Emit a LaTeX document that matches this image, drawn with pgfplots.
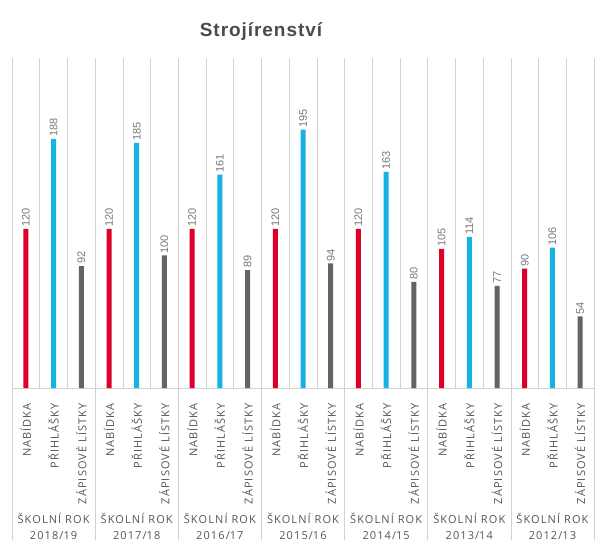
\documentclass[border=0pt]{standalone}
\usepackage{pgfplots}
\pgfplotsset{compat=1.18}
\usepackage{fontspec}
\setmainfont{Open Sans}
\newfontfamily\titlefont[LetterSpace=5]{Liberation Sans}
\newfontfamily\valfont{Liberation Sans}
\newfontfamily\catfont[LetterSpace=10]{Open Sans}
\definecolor{cred}{RGB}{222,0,42}
\definecolor{cblue}{RGB}{22,178,228}
\definecolor{cgrey}{RGB}{100,100,100}
\definecolor{gridc}{RGB}{210,210,210}
\definecolor{txtc}{RGB}{85,85,85}
\definecolor{valc}{RGB}{120,120,120}
\definecolor{titlec}{RGB}{75,75,75}
\begin{document}
\begin{tikzpicture}
\useasboundingbox (-12bp,-165bp) rectangle (593bp,388bp);
\begin{axis}[
  at={(0,0)}, anchor=south west, scale only axis,
  width=582bp, height=330bp,
  xmin=-0.5, xmax=20.5, ymin=0, ymax=249,
  axis x line=bottom, axis y line=none,
  axis line style={-, gridc},
  ytick=\empty,
  xtick={0,...,20},
  xticklabels={NABÍDKA,PŘIHLÁŠKY,ZÁPISOVÉ LÍSTKY,NABÍDKA,PŘIHLÁŠKY,ZÁPISOVÉ LÍSTKY,NABÍDKA,PŘIHLÁŠKY,ZÁPISOVÉ LÍSTKY,NABÍDKA,PŘIHLÁŠKY,ZÁPISOVÉ LÍSTKY,NABÍDKA,PŘIHLÁŠKY,ZÁPISOVÉ LÍSTKY,NABÍDKA,PŘIHLÁŠKY,ZÁPISOVÉ LÍSTKY,NABÍDKA,PŘIHLÁŠKY,ZÁPISOVÉ LÍSTKY},
  x tick label style={rotate=90, anchor=east, inner sep=0pt, text=txtc, font=\catfont\fontsize{11bp}{13bp}\selectfont},
  xticklabel shift=15bp,
  major tick length=0pt, minor tick length=0pt,
  minor xtick={-0.5,0.5,...,20.5},
  xminorgrids=true,
  minor grid style={gridc, line width=0.6pt},
  bar width=5bp,
  /pgf/number format/assume math mode=true,
  nodes near coords,
  every node near coord/.append style={rotate=90, anchor=west, inner sep=2bp, text=valc, font=\valfont\fontsize{11bp}{13bp}\selectfont},
  clip=false,
]
\addplot[ybar, bar shift=0pt, fill=cred, draw=none] coordinates {(0,120)(3,120)(6,120)(9,120)(12,120)(15,105)(18,90)};
\addplot[ybar, bar shift=0pt, fill=cblue, draw=none] coordinates {(1,188)(4,185)(7,161)(10,195)(13,163)(16,114)(19,106)};
\addplot[ybar, bar shift=0pt, fill=cgrey, draw=none] coordinates {(2,92)(5,100)(8,89)(11,94)(14,80)(17,77)(20,54)};
\end{axis}
\foreach \k in {0,...,7} {
  \draw[gridc, line width=0.6pt] ({\k*83.1429bp},0) -- ({\k*83.1429bp},-152bp);
}
\foreach \k/\y in {0/2018\slash19,1/2017\slash18,2/2016\slash17,3/2015\slash16,4/2014\slash15,5/2013\slash14,6/2012\slash13} {
  \node[align=center, text=txtc, inner sep=0pt, font=\catfont\fontsize{11bp}{16bp}\selectfont] at ({41.571bp+\k*83.1429bp},-138bp) {ŠKOLNÍ ROK\\\y};
}
\node[text=titlec, inner sep=0pt, font=\titlefont\bfseries\fontsize{19bp}{22bp}\selectfont] at (249bp,356bp) {Strojírenství};
\end{tikzpicture}
\end{document}
